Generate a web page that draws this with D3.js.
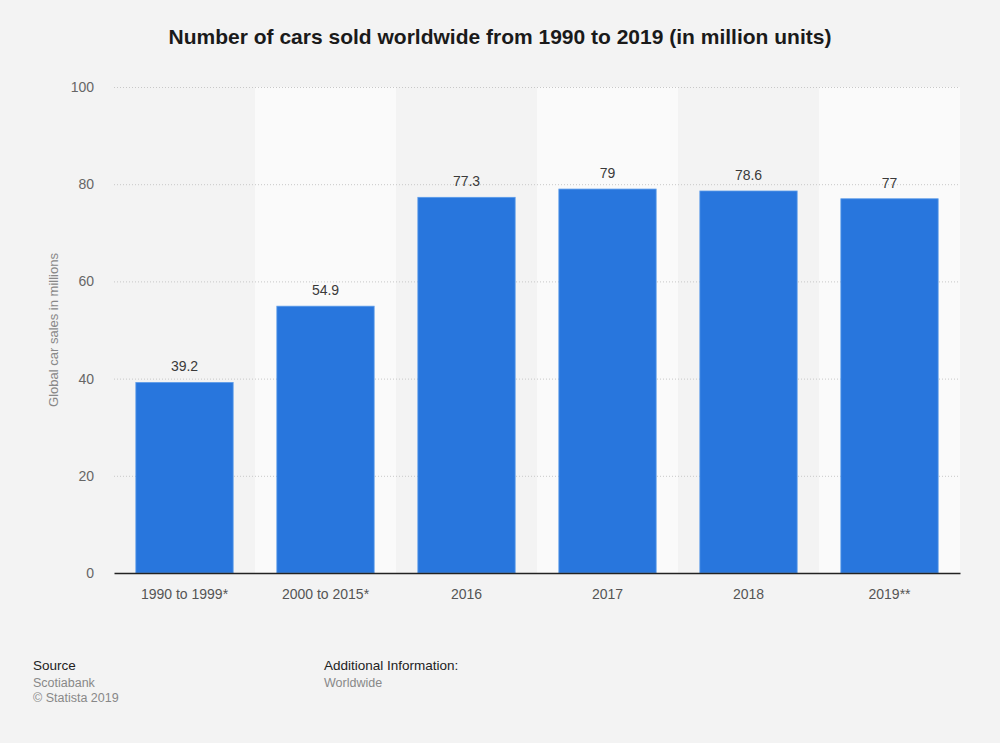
<!DOCTYPE html>
<html>
<head>
<meta charset="utf-8">
<script src="https://cdn.jsdelivr.net/npm/d3@7"></script>
<style>
  body { margin: 0; background: #f3f3f3; }
  svg { display: block; font-family: "Liberation Sans", Arial, sans-serif; }
</style>
</head>
<body>
<svg id="chart" width="1000" height="743"></svg>
<script>
// dati
var categorie = ['1990 to 1999*', '2000 to 2015*', '2016', '2017', '2018', '2019**'];
var vendite = [39.2, 54.9, 77.3, 79, 78.6, 77];
var etichette = ['39.2', '54.9', '77.3', '79', '78.6', '77'];
var tick_y = [0, 20, 40, 60, 80, 100];

var svg = d3.select('#chart');
var m_left = 114, m_right = 960, m_top = 87, m_bottom = 573;

var x = d3.scaleBand()
    .domain(categorie)
    .range([m_left, m_right])
    .paddingInner(0.31)
    .paddingOuter(0.155);

var y = d3.scaleLinear()
    .domain([0, 100])
    .range([m_bottom, m_top]);

var step = x.step();

// bande alternate
svg.append('g')
   .selectAll('rect')
   .data(categorie)
   .enter()
   .append('rect')
   .attr('x', function (d) { return x(d) - (step - x.bandwidth()) / 2 })
   .attr('y', m_top)
   .attr('width', step)
   .attr('height', m_bottom - m_top)
   .attr('fill', function (d, i) { return i % 2 ? '#fafafa' : '#f3f3f3' })

// griglia
svg.append('g')
   .selectAll('line')
   .data(tick_y.filter(function (d) { return d > 0 }))
   .enter()
   .append('line')
   .attr('x1', m_left)
   .attr('x2', m_right)
   .attr('y1', function (d) { return y(d) + 0.5 })
   .attr('y2', function (d) { return y(d) + 0.5 })
   .attr('stroke', '#c8c8c8')
   .attr('stroke-width', 1)
   .attr('stroke-dasharray', '1,2')

// asse y
var yAxis = svg.append('g')
   .attr('transform', 'translate(' + m_left + ',0)')
   .call(d3.axisLeft(y).tickValues(tick_y).tickSize(0).tickPadding(20))
yAxis.select('.domain').remove()
yAxis.selectAll('text')
   .attr('font-size', 14)
   .attr('fill', '#666')
   .attr('font-family', '"Liberation Sans", Arial, sans-serif')

// barre
svg.append('g')
   .selectAll('rect')
   .data(vendite)
   .enter()
   .append('rect')
   .attr('x', function (d, i) { return x(categorie[i]) })
   .attr('y', function (d) { return y(d) })
   .attr('width', x.bandwidth())
   .attr('height', function (d) { return y(0) - y(d) })
   .attr('fill', '#2876dd')
   .attr('stroke', '#5b9be9')
   .attr('stroke-width', 0.8)

// valori
svg.append('g')
   .selectAll('text')
   .data(vendite)
   .enter()
   .append('text')
   .attr('x', function (d, i) { return x(categorie[i]) + x.bandwidth() / 2 })
   .attr('y', function (d) { return y(d) - 11 })
   .attr('text-anchor', 'middle')
   .attr('font-size', 14)
   .attr('fill', '#3a3a3a')
   .text(function (d, i) { return etichette[i] })

// asse x
var xAxis = svg.append('g')
   .attr('transform', 'translate(0,' + m_bottom + ')')
   .call(d3.axisBottom(x).tickSize(0).tickPadding(16))
xAxis.select('.domain')
   .attr('stroke', '#222')
   .attr('stroke-width', 1.3)
xAxis.selectAll('text')
   .attr('font-size', 14)
   .attr('fill', '#555')
   .attr('font-family', '"Liberation Sans", Arial, sans-serif')

// titolo
svg.append('text')
   .attr('x', 500)
   .attr('y', 44)
   .attr('text-anchor', 'middle')
   .attr('font-size', 21)
   .attr('font-weight', 'bold')
   .attr('fill', '#1a1a1a')
   .text('Number of cars sold worldwide from 1990 to 2019 (in million units)')

// etichetta y
svg.append('text')
   .attr('transform', 'translate(58,' + ((m_top + m_bottom) / 2) + ') rotate(-90)')
   .attr('text-anchor', 'middle')
   .attr('font-size', 13)
   .attr('fill', '#888')
   .text('Global car sales in millions')

// piede
var piede = svg.append('g').attr('font-size', 12.5)
piede.append('text').attr('x', 33).attr('y', 670).attr('font-size', 13.5).attr('fill', '#222').text('Source')
piede.append('text').attr('x', 33).attr('y', 687).attr('fill', '#888').text('Scotiabank')
piede.append('text').attr('x', 33).attr('y', 702).attr('fill', '#888').text('© Statista 2019')
piede.append('text').attr('x', 324).attr('y', 670).attr('font-size', 13.5).attr('fill', '#222').text('Additional Information:')
piede.append('text').attr('x', 324).attr('y', 687).attr('fill', '#888').text('Worldwide')
</script>
</body>
</html>
